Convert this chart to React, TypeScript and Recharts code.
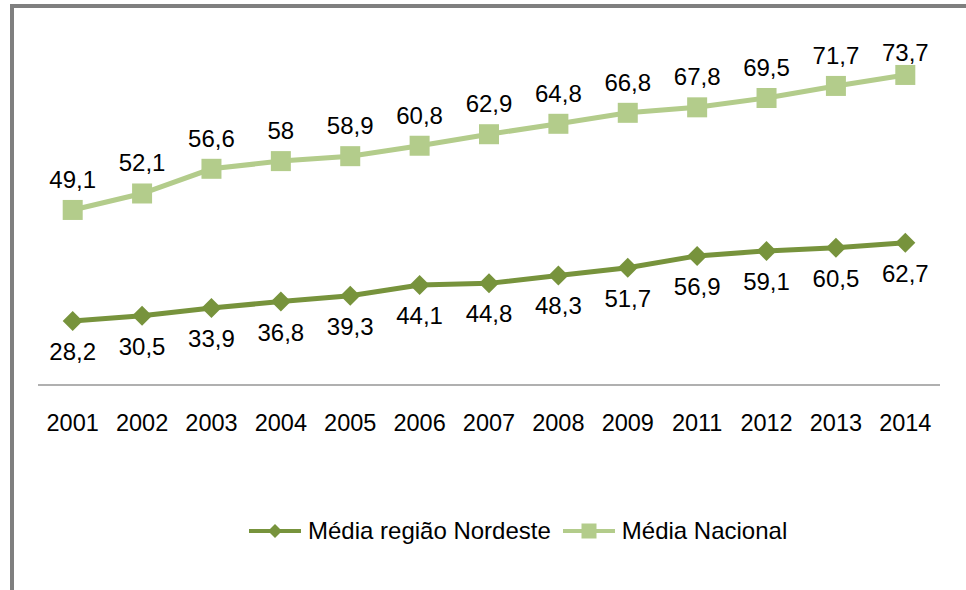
import { LineChart, Line, XAxis, YAxis } from "recharts";

const YEARS = ["2001", "2002", "2003", "2004", "2005", "2006", "2007", "2008", "2009", "2011", "2012", "2013", "2014"];
const NORDESTE = [28.2, 30.5, 33.9, 36.8, 39.3, 44.1, 44.8, 48.3, 51.7, 56.9, 59.1, 60.5, 62.7];
const NACIONAL = [49.1, 52.1, 56.6, 58, 58.9, 60.8, 62.9, 64.8, 66.8, 67.8, 69.5, 71.7, 73.7];
const SERIES_NAMES = ["Média região Nordeste", "Média Nacional"];

const DARK = "#77933c";
const LIGHT = "#b3cc8b";
const TEXT = "#000";
const FONT = "'Liberation Sans', Arial, sans-serif";

const data = YEARS.map((year, i) => ({ year, nordeste: NORDESTE[i], nacional: NACIONAL[i] }));

const fmt = (v: number) => String(v).replace(".", ",");

function diamondPoints(cx: number, cy: number, r: number) {
  return `${cx},${cy - r} ${cx + r},${cy} ${cx},${cy + r} ${cx - r},${cy}`;
}

function LegendItem({ name, color, shape }: { name: string; color: string; shape: "diamond" | "square" }) {
  return (
    <div style={{ display: "flex", alignItems: "center", marginRight: 12 }}>
      <svg width={52} height={20}>
        <line x1={0} y1={10} x2={52} y2={10} stroke={color} strokeWidth={4} />
        {shape === "diamond" ? (
          <polygon points={diamondPoints(26, 10, 7)} fill={color} />
        ) : (
          <rect x={18.5} y={2.5} width={15} height={15} fill={color} />
        )}
      </svg>
      <span style={{ marginLeft: 7 }}>{name}</span>
    </div>
  );
}

export default function App() {
  return (
    <div style={{ position: "absolute", left: 0, top: 0, width: 966, height: 590, background: "#fff", fontFamily: FONT }}>
      <div
        style={{
          position: "absolute",
          left: 10,
          top: 4,
          width: 952,
          height: 582,
          borderLeft: "4px solid #7f7f7f",
          borderTop: "4px solid #7f7f7f",
        }}
      />
      <div style={{ position: "absolute", left: 0, top: 0 }}>
        <LineChart width={966} height={590} data={data} margin={{ top: 22, right: 26, left: 38, bottom: 145 }}>
          <XAxis
            dataKey="year"
            height={60}
            padding={{ left: 34.7, right: 34.7 }}
            axisLine={{ stroke: "#b0b0b0", strokeWidth: 2 }}
            tickLine={false}
            tickSize={0}
            tickMargin={0}
            interval={0}
            tick={(p: any) => (
              <text x={p.x} y={p.y + 46} textAnchor="middle" fontSize={23.5} fill={TEXT} fontFamily={FONT}>
                {p.payload.value}
              </text>
            )}
          />
          <YAxis yAxisId="nordeste" hide domain={[0, 160]} allowDataOverflow />
          <YAxis yAxisId="nacional" hide orientation="right" domain={[17.2, 83.35]} allowDataOverflow />
          <Line
            yAxisId="nordeste"
            dataKey="nordeste"
            name={SERIES_NAMES[0]}
            stroke={DARK}
            strokeWidth={5}
            isAnimationActive={false}
            dot={(p: any) => <polygon key={`d${p.index}`} points={diamondPoints(p.cx, p.cy, 10)} fill={DARK} />}
            label={(p: any) => (
              <text key={`l${p.index}`} x={p.x} y={p.y + 39} textAnchor="middle" fontSize={24} fill={TEXT} fontFamily={FONT}>
                {fmt(p.value)}
              </text>
            )}
          />
          <Line
            yAxisId="nacional"
            dataKey="nacional"
            name={SERIES_NAMES[1]}
            stroke={LIGHT}
            strokeWidth={5}
            isAnimationActive={false}
            dot={(p: any) => (
              <rect key={`s${p.index}`} x={p.cx - 10} y={p.cy - 10} width={20} height={20} fill={LIGHT} />
            )}
            label={(p: any) => (
              <text
                key={`m${p.index}`}
                x={p.x}
                y={Math.max(p.y - 22, 61)}
                textAnchor="middle"
                fontSize={24}
                fill={TEXT}
                fontFamily={FONT}
              >
                {fmt(p.value)}
              </text>
            )}
          />
        </LineChart>
      </div>
      <div
        style={{
          position: "absolute",
          left: 249,
          top: 517,
          display: "flex",
          alignItems: "center",
          fontSize: 24,
          color: TEXT,
          whiteSpace: "nowrap",
        }}
      >
        <LegendItem name={SERIES_NAMES[0]} color={DARK} shape="diamond" />
        <LegendItem name={SERIES_NAMES[1]} color={LIGHT} shape="square" />
      </div>
    </div>
  );
}
